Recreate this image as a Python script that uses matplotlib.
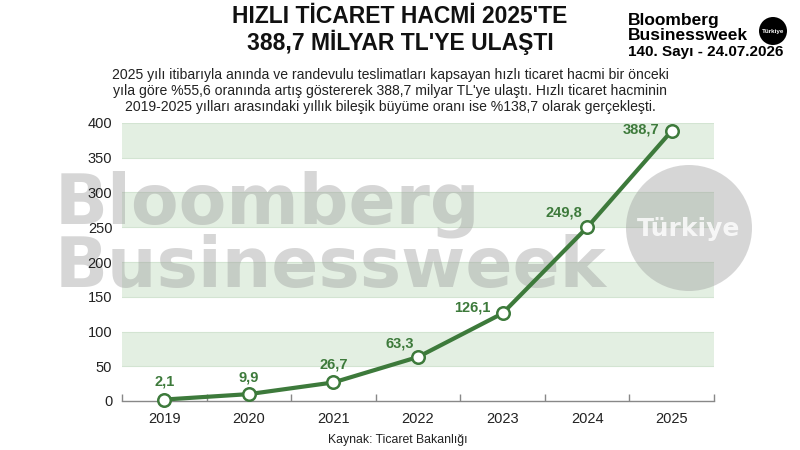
import matplotlib
matplotlib.use("Agg")
import matplotlib.pyplot as plt
from matplotlib.patches import Circle

plt.rcParams['font.family'] = ['Liberation Sans', 'DejaVu Sans']

years = ["2019", "2020", "2021", "2022", "2023", "2024", "2025"]
values = [2.1, 9.9, 26.7, 63.3, 126.1, 249.8, 388.7]
labels = ["2,1", "9,9", "26,7", "63,3", "126,1", "249,8", "388,7"]
yticks = [0, 50, 100, 150, 200, 250, 300, 350, 400]
bands = [(50, 100), (150, 200), (250, 300), (350, 400)]

title = "HIZLI TİCARET HACMİ 2025'TE\n388,7 MİLYAR TL'YE ULAŞTI"
subtitle = ["2025 yılı itibarıyla anında ve randevulu teslimatları kapsayan hızlı ticaret hacmi bir önceki",
            "yıla göre %55,6 oranında artış göstererek 388,7 milyar TL'ye ulaştı. Hızlı ticaret hacminin",
            "2019-2025 yılları arasındaki yıllık bileşik büyüme oranı ise %138,7 olarak gerçekleşti."]
source = "Kaynak: Ticaret Bakanlığı"

green = "#3d7a3b"
band_color = "#e3efe2"

fig = plt.figure(figsize=(8, 4.5), dpi=100)
fig.patch.set_facecolor("white")
ax = fig.add_axes([122/800, 1-401/450, (714-122)/800, (401-123)/450])

x = list(range(len(years)))
for lo, hi in bands:
    ax.axhspan(lo, hi, color=band_color, zorder=0, lw=0)
    ax.axhline(lo, color="#d3e4d2", lw=0.8, zorder=0.5)
    ax.axhline(hi, color="#d3e4d2", lw=0.8, zorder=0.5)

# watermark (between bands and line)
wm = "#9a9a9a"
wa = 0.4
ax.text(55/800, 1-223/450, "Bloomberg", transform=fig.transFigure, fontsize=50, fontweight="bold",
        family="DejaVu Sans", color=wm, alpha=wa, ha="left", va="baseline", zorder=1)
ax.text(55/800, 1-287/450, "Businessweek", transform=fig.transFigure, fontsize=50, fontweight="bold",
        family="DejaVu Sans", color=wm, alpha=wa, ha="left", va="baseline", zorder=1)
circ = Circle((689, 450-228), 63, transform=None, facecolor=wm, alpha=wa, edgecolor="none",
              zorder=1, clip_on=False)
ax.add_artist(circ)
ax.text(689/800, 1-229/450, "Türkiye", transform=fig.transFigure, fontsize=18, fontweight="bold",
        family="DejaVu Sans", color="white", alpha=0.8, ha="center", va="center", zorder=1.1)

ax.plot(x, values, color=green, lw=3.0, marker="o", markersize=9, markerfacecolor="white",
        markeredgecolor=green, markeredgewidth=1.8, zorder=3, solid_capstyle="round", clip_on=False)

offsets = [(0, 13, "center"), (0, 12, "center"), (0, 13, "center"),
           (-13, 10, "center"), (-22, 4.3, "center"), (-17, 11, "center"),
           (-8.6, 0.7, "right")]
for xi, v, lab, (dx, dy, ha) in zip(x, values, labels, offsets):
    ax.annotate(lab, (xi, v), xytext=(dx, dy), textcoords="offset points", ha=ha, va="center",
                color=green, fontsize=10.5, fontweight="bold", zorder=4)

ax.set_xlim(-0.5, 6.5)
ax.set_ylim(0, 400)
ax.set_yticks(yticks)
ax.set_yticklabels([str(t) for t in yticks], fontsize=10.5, color="#222222")
ax.set_xticks(x)
ax.set_xticklabels(years, fontsize=10.5, color="#222222")
ax.set_xticks([i - 0.5 for i in range(len(years) + 1)], minor=True)
ax.tick_params(axis="y", length=0, pad=7)
ax.tick_params(axis="x", which="major", length=0, pad=8)
ax.tick_params(axis="x", which="minor", direction="in", length=5, color="#888888", width=1)
for s in ["top", "right", "left"]:
    ax.spines[s].set_visible(False)
ax.spines["bottom"].set_color("#888888")
ax.spines["bottom"].set_linewidth(1)
ax.set_facecolor("none")

fig.text(400/800, 1-30/450, title, ha="center", va="center", fontsize=16.5, fontweight="bold",
         color="#111111", linespacing=1.1)
for i, line in enumerate(subtitle):
    fig.text(390/800, 1-(75+16*i)/450, line, ha="center", va="center", fontsize=10.1, color="#222222")
fig.text(398/800, 1-440/450, source, ha="center", va="center", fontsize=8.8, color="#222222")

# logo
fig.text(628/800, 1-21/450, "Bloomberg", ha="left", va="center", fontsize=12.5, fontweight="bold", color="black")
fig.text(628/800, 1-35/450, "Businessweek", ha="left", va="center", fontsize=12.5, fontweight="bold", color="black")
fig.text(628/800, 1-52/450, "140. Sayı - 24.07.2026", ha="left", va="center", fontsize=11, fontweight="bold", color="black")
logo_c = Circle((773, 450-31), 14, transform=None, facecolor="black", edgecolor="none")
fig.patches.append(logo_c)
fig.text(773/800, 1-31/450, "Türkiye", ha="center", va="center", fontsize=4.5, fontweight="bold", color="white")

fig.savefig("out.png", dpi=100)
